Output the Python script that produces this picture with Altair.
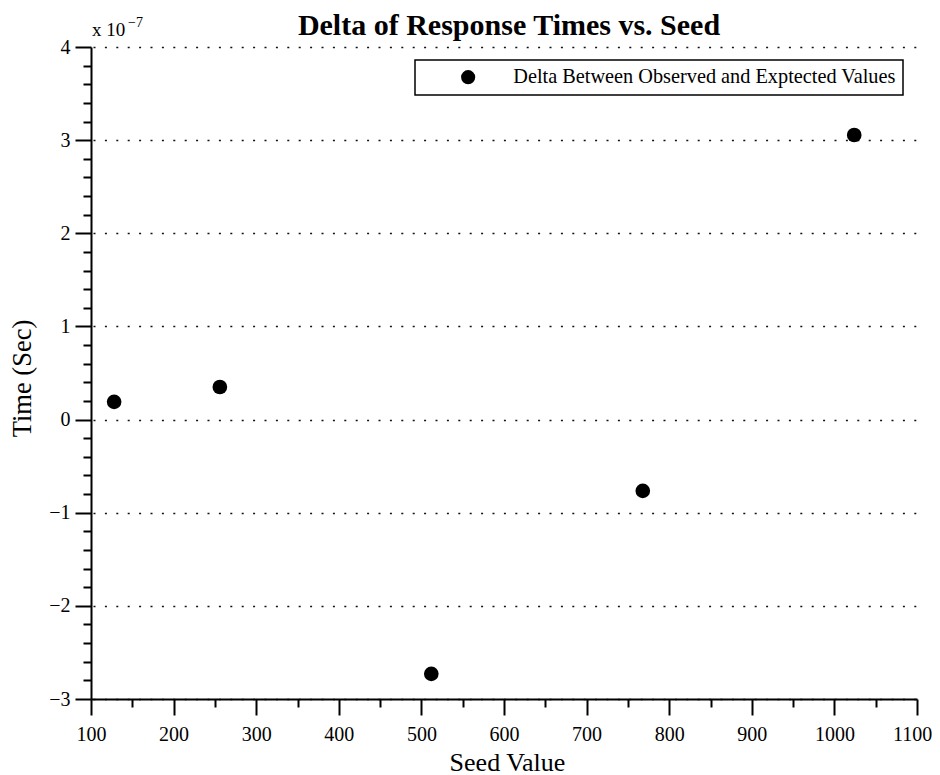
import altair as alt
import pandas as pd

# ---- data ----
seed = [128, 256, 512, 768, 1024]
delta = [0.19e-7, 0.35e-7, -2.73e-7, -0.765e-7, 3.055e-7]
series_name = "Delta Between Observed and Exptected Values"

x_major = [100, 200, 300, 400, 500, 600, 700, 800, 900, 1000, 1100]
x_minor = [150, 250, 350, 450, 550, 650, 750, 850, 950, 1050]
y_major_labels = [-3, -2, -1, 0, 1, 2, 3, 4]
y_exp = 1e-7
y_major = [v * y_exp for v in y_major_labels]
y_minor = [k / 5 * y_exp for k in range(-15, 20) if k % 5 != 0]

title_text = "Delta of Response Times vs. Seed"
x_title = "Seed Value"
y_title = "Time (Sec)"
mult_text = "x 10"
mult_exp = "\u22127"

df = pd.DataFrame({"seed": seed, "delta": delta, "series": [series_name] * len(seed)})

FONT = "Liberation Serif"
W, H = 826, 652

xscale = alt.Scale(domain=[100, 1100], nice=False, zero=False)
yscale = alt.Scale(domain=[-3e-7, 4e-7], nice=False, zero=False)

minor = alt.Chart(df).mark_circle(opacity=0).encode(
    x=alt.X("seed:Q", scale=xscale,
            axis=alt.Axis(orient="bottom", values=x_minor, labels=False, domain=False,
                          grid=False, ticks=True, tickSize=8, tickWidth=2,
                          tickColor="black", title="")),
    y=alt.Y("delta:Q", scale=yscale,
            axis=alt.Axis(orient="left", values=y_minor, labels=False, domain=False,
                          grid=False, ticks=True, tickSize=8, tickWidth=2,
                          tickColor="black", title="")),
)

points = alt.Chart(df).mark_circle(size=215, opacity=1).encode(
    x=alt.X("seed:Q", scale=xscale,
            axis=alt.Axis(orient="bottom", values=x_major, title=x_title, format="d",
                          tickSize=16, tickWidth=2, tickColor="black",
                          domainWidth=2, domainColor="black", grid=False,
                          labelFont=FONT, labelFontSize=20, labelColor="black",
                          labelPadding=9, labelFlush=False, labelOverlap=False,
                          labelOffset={"condition": {"test": "datum.value == 1100", "value": -5},
                                       "value": 0},
                          titleFont=FONT, titleFontSize=26, titleFontWeight="normal",
                          titleColor="black", titleBaseline="alphabetic",
                          titleX=416, titleY=71, titleAlign="center")),
    y=alt.Y("delta:Q", scale=yscale,
            axis=alt.Axis(orient="left", values=y_major, title=y_title,
                          labelExpr="format(datum.value * 1e7, '.0f')",
                          tickSize=16, tickWidth=2, tickColor="black",
                          domainWidth=2, domainColor="black",
                          grid=True, gridDash=[2, 9.4], gridColor="#111111",
                          gridWidth=1.6, gridDashOffset=-2,
                          labelFont=FONT, labelFontSize=20, labelColor="black",
                          labelPadding=5, labelFlush=False, labelOverlap=False,
                          titleFont=FONT, titleFontSize=26.5, titleFontWeight="normal",
                          titleColor="black", titleBaseline="alphabetic",
                          titleAngle=270, titleX=-61, titleY=331, titleAlign="center")),
    color=alt.Color("series:N", scale=alt.Scale(range=["black"]),
                    legend=alt.Legend(orient="none", legendX=324, legendY=13, title=None,
                                      labelFont=FONT, labelFontSize=20.3, labelColor="black",
                                      labelLimit=600,
                                      symbolType="circle", symbolSize=200,
                                      symbolFillColor="black", symbolStrokeWidth=0,
                                      symbolOffset=36, labelOffset=35, padding=7,
                                      strokeColor="black", fillColor="white",
                                      cornerRadius=0)),
)

title = alt.Chart(pd.DataFrame({"t": [title_text]})).mark_text(
    font=FONT, fontSize=30, fontWeight="bold", align="center", baseline="alphabetic",
    color="black"
).encode(text="t:N", x=alt.value(418), y=alt.value(-12))

mult = alt.Chart(pd.DataFrame({"t": [mult_text]})).mark_text(
    font=FONT, fontSize=19, align="left", baseline="alphabetic", color="black"
).encode(text="t:N", x=alt.value(1), y=alt.value(-11))

expo = alt.Chart(pd.DataFrame({"t": [mult_exp]})).mark_text(
    font=FONT, fontSize=14, align="left", baseline="alphabetic", color="black"
).encode(text="t:N", x=alt.value(37), y=alt.value(-20))

chart = alt.layer(minor, points, title, mult, expo).resolve_axis(
    x="independent", y="independent"
).properties(
    width=W, height=H,
    autosize=alt.AutoSizeParams(type="none"),
    padding={"left": 83, "top": 39, "right": 15, "bottom": 76},
    background="white",
).configure_view(stroke=None).configure_legend(strokeWidth=1.5)

chart.save("out.html", embed_options={"renderer": "svg", "actions": False})
